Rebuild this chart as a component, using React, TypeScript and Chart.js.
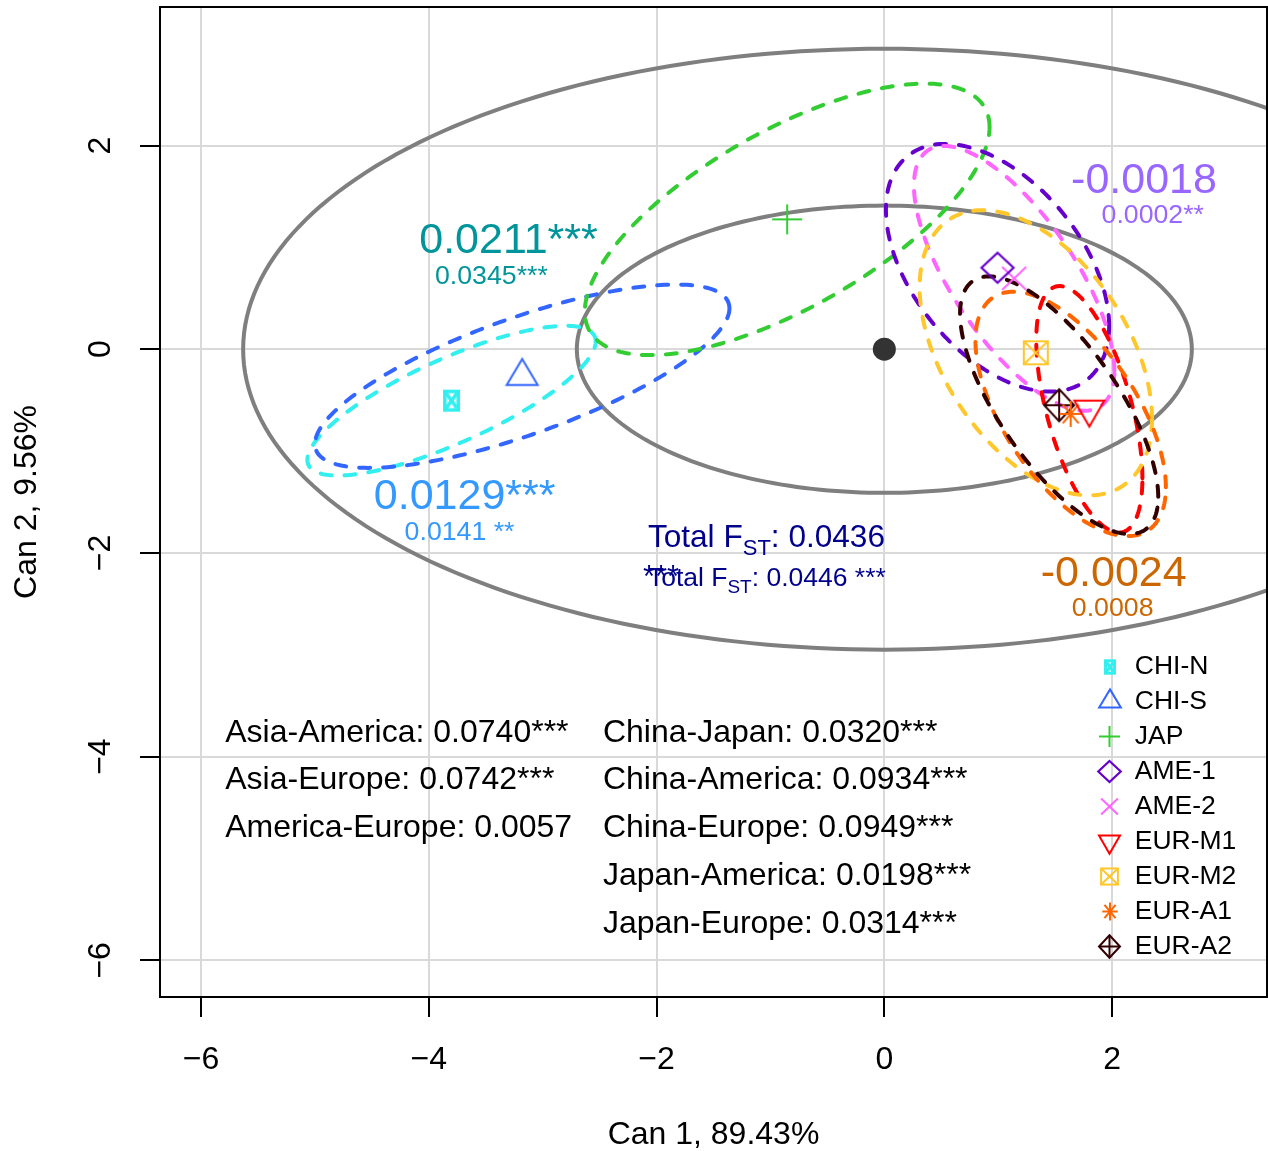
import { useEffect, useRef } from "react";
import { Chart, registerables } from "chart.js";

Chart.register(...registerables);

const FONT = "'Liberation Sans', Arial, Helvetica, sans-serif";

// Group means on the first two canonical axes
const groups = ["CHI-N", "CHI-S", "JAP", "AME-1", "AME-2", "EUR-M1", "EUR-M2", "EUR-A1", "EUR-A2"];
const can1Mean = [-3.8, -3.18, -0.853, 0.994, 1.14, 1.8, 1.33, 1.636, 1.535];
const can2Mean = [-0.505, -0.265, 1.275, 0.8, 0.696, -0.59, -0.035, -0.635, -0.55];
const groupColors = ["#33EFEF", "#3366FF", "#33CC33", "#6600CC", "#FF66FF", "#FF0000", "#FFC72C", "#FF6600", "#330000"];
const groupMarkers = ["boxX", "triUp", "plus", "diamond", "cross", "triDown", "squareX", "asterisk", "diamondPlus"];

// Dispersion ellipse of each group: half-extent on Can 1, on Can 2, and Can1/Can2 correlation
const ellipseHalf1 = [1.266, 1.82, 1.777, 0.98, 0.88, 0.466, 1.02, 0.836, 0.87];
const ellipseHalf2 = [0.735, 0.9, 1.333, 1.216, 1.3, 1.21, 1.4, 1.2, 1.265];
const ellipseCorr = [0.79, 0.74, 0.68, -0.47, -0.7, -0.56, -0.46, -0.6, -0.71];

// Reference ellipses around the grand centroid
const refHalf1 = [2.7, 5.63];
const refHalf2 = [1.41, 2.95];

const xTicks = [-6, -4, -2, 0, 2];
const yTicks = [-6, -4, -2, 0, 2];

// Within-region FST (large) and alternative estimate (small)
const regionFst = ["0.0211***", "-0.0018", "0.0129***", "-0.0024"];
const regionFstAlt = ["0.0345***", "0.0002**", "0.0141 **", "0.0008"];
const regionFstColors = ["#00959B", "#9966FF", "#3399FF", "#CC6600"];

const totalFst = ["0.0436", "0.0446 ***"];

const regionPairs = ["Asia-America: 0.0740***", "Asia-Europe: 0.0742***", "America-Europe: 0.0057"];
const countryPairs = [
  "China-Japan: 0.0320***",
  "China-America: 0.0934***",
  "China-Europe: 0.0949***",
  "Japan-America: 0.0198***",
  "Japan-Europe: 0.0314***",
];

// Text placement, in axis units
const regionFstPos = [
  { x: -3.3, y: 1.06, x2: -3.45, y2: 0.716 },
  { x: 2.28, y: 1.647, x2: 2.357, y2: 1.314 },
  { x: -3.685, y: -1.451, x2: -3.73, y2: -1.804 },
  { x: 2.014, y: -2.206, x2: 2.005, y2: -2.549 },
];

const markerSize: Record<string, [number, number, number]> = {
  boxX: [17, 22, 3.6],
  triUp: [31, 26, 2],
  plus: [30, 30, 2],
  diamond: [32, 30, 2.2],
  cross: [24, 23, 2],
  triDown: [30, 26, 2],
  squareX: [24, 23, 2],
  asterisk: [22, 26, 2],
  diamondPlus: [30, 32, 2],
};

function makeMarker(kind: string, color: string, scale: number): HTMLCanvasElement {
  const [w0, h0, lw0] = markerSize[kind];
  const w = w0 * scale;
  const h = h0 * scale;
  const lw = kind === "boxX" ? Math.max(3, lw0 * scale) : lw0;
  let top = -h / 2;
  let bottom = h / 2;
  if (kind === "triUp") {
    top = (-2 * h) / 3;
    bottom = h / 3;
  }
  if (kind === "triDown") {
    top = -h / 3;
    bottom = (2 * h) / 3;
  }
  const half = Math.max(-top, bottom);
  const pad = 4;
  const c = document.createElement("canvas");
  c.width = Math.ceil(w + 2 * pad);
  c.height = Math.ceil(2 * half + 2 * pad);
  const ctx = c.getContext("2d")!;
  ctx.translate(c.width / 2, c.height / 2);
  ctx.strokeStyle = color;
  ctx.fillStyle = color;
  ctx.lineWidth = lw;
  const hw = w / 2;
  const hh = h / 2;
  const seg = (x1: number, y1: number, x2: number, y2: number) => {
    ctx.beginPath();
    ctx.moveTo(x1, y1);
    ctx.lineTo(x2, y2);
    ctx.stroke();
  };
  const diamond = () => {
    ctx.beginPath();
    ctx.moveTo(0, -hh);
    ctx.lineTo(hw, 0);
    ctx.lineTo(0, hh);
    ctx.lineTo(-hw, 0);
    ctx.closePath();
    ctx.stroke();
  };
  switch (kind) {
    case "boxX":
      ctx.strokeRect(-hw + lw / 2, -hh + lw / 2, w - lw, h - lw);
      seg(-hw + lw / 2, -hh + lw / 2, hw - lw / 2, hh - lw / 2);
      seg(-hw + lw / 2, hh - lw / 2, hw - lw / 2, -hh + lw / 2);
      break;
    case "triUp":
      ctx.beginPath();
      ctx.moveTo(0, top);
      ctx.lineTo(hw, bottom);
      ctx.lineTo(-hw, bottom);
      ctx.closePath();
      ctx.stroke();
      break;
    case "triDown":
      ctx.beginPath();
      ctx.moveTo(-hw, top);
      ctx.lineTo(hw, top);
      ctx.lineTo(0, bottom);
      ctx.closePath();
      ctx.stroke();
      break;
    case "plus":
      seg(-hw, 0, hw, 0);
      seg(0, -hh, 0, hh);
      break;
    case "cross":
      seg(-hw, -hh, hw, hh);
      seg(-hw, hh, hw, -hh);
      break;
    case "diamond":
      diamond();
      break;
    case "squareX":
      ctx.strokeRect(-hw, -hh, w, h);
      seg(-hw, -hh, hw, hh);
      seg(-hw, hh, hw, -hh);
      break;
    case "asterisk":
      seg(-hw, 0, hw, 0);
      seg(0, -hh, 0, hh);
      seg(-hw * 0.72, -hh * 0.72, hw * 0.72, hh * 0.72);
      seg(-hw * 0.72, hh * 0.72, hw * 0.72, -hh * 0.72);
      break;
    case "diamondPlus":
      diamond();
      seg(-hw, 0, hw, 0);
      seg(0, -hh, 0, hh);
      break;
  }
  return c;
}

function traceEllipse(ctx: CanvasRenderingContext2D, xs: any, ys: any, cx: number, cy: number, h1: number, h2: number, r: number) {
  const n = 240;
  const q = Math.sqrt(1 - r * r);
  ctx.beginPath();
  for (let k = 0; k <= n; k++) {
    const t = (2 * Math.PI * k) / n;
    const px = xs.getPixelForValue(cx + h1 * Math.cos(t));
    const py = ys.getPixelForValue(cy + h2 * (r * Math.cos(t) + q * Math.sin(t)));
    if (k === 0) ctx.moveTo(px, py);
    else ctx.lineTo(px, py);
  }
  ctx.closePath();
}

const ellipsePlugin = {
  id: "groupEllipses",
  beforeDatasetsDraw(chart: any) {
    const { ctx, chartArea: ca } = chart;
    const xs = chart.scales.x;
    const ys = chart.scales.y;
    ctx.save();
    ctx.beginPath();
    ctx.rect(ca.left, ca.top, ca.right - ca.left, ca.bottom - ca.top);
    ctx.clip();
    ctx.strokeStyle = "#7F7F7F";
    ctx.lineWidth = 4;
    ctx.setLineDash([]);
    for (let k = 0; k < refHalf1.length; k++) {
      traceEllipse(ctx, xs, ys, 0, 0, refHalf1[k], refHalf2[k], 0);
      ctx.stroke();
    }
    ctx.lineWidth = 4;
    ctx.lineCap = "round";
    ctx.setLineDash([11, 13]);
    groups.forEach((_, i) => {
      ctx.strokeStyle = groupColors[i];
      traceEllipse(ctx, xs, ys, can1Mean[i], can2Mean[i], ellipseHalf1[i], ellipseHalf2[i], ellipseCorr[i]);
      ctx.stroke();
    });
    ctx.restore();
  },
};

function makeTextPlugin(legendMarkers: HTMLCanvasElement[]) {
  return {
    id: "fstText",
    afterDatasetsDraw(chart: any) {
      const { ctx } = chart;
      const xs = chart.scales.x;
      const ys = chart.scales.y;
      const px = (v: number) => xs.getPixelForValue(v);
      const py = (v: number) => ys.getPixelForValue(v);
      ctx.save();
      ctx.textBaseline = "middle";

      // within-region FST values
      ctx.textAlign = "center";
      regionFst.forEach((t, i) => {
        const p = regionFstPos[i];
        ctx.fillStyle = regionFstColors[i];
        ctx.font = `43px ${FONT}`;
        ctx.fillText(t, px(p.x), py(p.y));
        ctx.font = `26.7px ${FONT}`;
        ctx.fillText(regionFstAlt[i], px(p.x2), py(p.y2));
      });

      // total FST with subscript
      ctx.textAlign = "left";
      ctx.textBaseline = "alphabetic";
      ctx.fillStyle = "#00008B";
      const drawTotal = (x0: number, base: number, size: number, sub: number, drop: number, val: string) => {
        ctx.font = `${size}px ${FONT}`;
        ctx.fillText("Total F", x0, base);
        let x = x0 + ctx.measureText("Total F").width;
        ctx.font = `${sub}px ${FONT}`;
        ctx.fillText("ST", x, base + drop);
        x += ctx.measureText("ST").width;
        ctx.font = `${size}px ${FONT}`;
        ctx.fillText(": " + val, x, base);
      };
      const tx = px(-2.076);
      drawTotal(tx, py(-1.941), 31.6, 22, 8, totalFst[0]);
      drawTotal(tx, py(-2.324), 26.5, 19, 7, totalFst[1]);
      ctx.font = `31px ${FONT}`;
      ctx.fillText("***", tx - 5, py(-2.33));

      // pairwise FST between regions / countries
      ctx.textBaseline = "middle";
      ctx.fillStyle = "#000";
      ctx.font = `32px ${FONT}`;
      regionPairs.forEach((t, i) => ctx.fillText(t, px(-5.787), py(-3.765 - 0.4706 * i)));
      countryPairs.forEach((t, i) => ctx.fillText(t, px(-2.471), py(-3.765 - 0.4706 * i)));

      // legend
      ctx.font = `26.5px ${FONT}`;
      groups.forEach((g, i) => {
        const cy = py(-3.118 - 0.343 * i);
        const m = legendMarkers[i];
        ctx.drawImage(m, Math.round(px(1.98) - m.width / 2), Math.round(cy - m.height / 2));
        ctx.fillText(g, px(2.199), cy);
      });
      ctx.restore();
    },
    afterDraw(chart: any) {
      const { ctx, chartArea: ca } = chart;
      ctx.save();
      ctx.strokeStyle = "#000";
      ctx.lineWidth = 2;
      ctx.strokeRect(ca.left, ca.top, ca.right - ca.left, ca.bottom - ca.top);
      ctx.restore();
    },
  };
}

const fmtTick = (v: number | string) => {
  const n = Number(v);
  return n < 0 ? "\u2212" + Math.abs(n) : String(n);
};

const clearPadding = (s: any) => {
  s.paddingTop = 0;
  s.paddingBottom = 0;
  s.paddingLeft = 0;
  s.paddingRight = 0;
};

export default function App() {
  const ref = useRef<HTMLCanvasElement>(null);

  useEffect(() => {
    const plotMarkers = groupMarkers.map((k, i) => makeMarker(k, groupColors[i], 1));
    const legendMarkers = groupMarkers.map((k, i) => makeMarker(k, groupColors[i], 0.7));
    const tickFont = { family: FONT, size: 32 };

    const datasets: any[] = [
      {
        label: "centroid",
        data: [{ x: 0, y: 0 }],
        pointStyle: "circle",
        pointRadius: 11.5,
        backgroundColor: "#333333",
        borderColor: "#333333",
        borderWidth: 0,
      },
      ...groups.map((g, i) => ({
        label: g,
        data: [{ x: can1Mean[i], y: can2Mean[i] }],
        pointStyle: plotMarkers[i],
        pointRadius: 12,
        showLine: false,
      })),
    ];

    const chart = new Chart(ref.current!, {
      type: "scatter",
      data: { datasets },
      options: {
        responsive: false,
        animation: false,
        events: [],
        layout: { autoPadding: false, padding: { left: 0, right: 1, top: 7, bottom: 0 } },
        plugins: { legend: { display: false }, tooltip: { enabled: false } },
        scales: {
          x: {
            type: "linear",
            min: -6.36,
            max: 3.36,
            afterFit: (s: any) => {
              s.height = 154;
              clearPadding(s);
            },
            afterBuildTicks: (s: any) => {
              s.ticks = xTicks.map((v) => ({ value: v }));
            },
            border: { display: false },
            grid: { color: "#D9D9D9", lineWidth: 2, drawTicks: true, tickLength: 20, tickColor: "#000", tickWidth: 2 },
            ticks: { color: "#000", font: tickFont, padding: 24, maxRotation: 0, callback: fmtTick },
            title: { display: true, text: "Can 1, 89.43%", color: "#000", font: tickFont, padding: { top: 0, bottom: -3 } },
          },
          y: {
            type: "linear",
            min: -6.36,
            max: 3.36,
            afterFit: (s: any) => {
              s.width = 160;
              clearPadding(s);
            },
            afterBuildTicks: (s: any) => {
              s.ticks = yTicks.map((v) => ({ value: v }));
            },
            border: { display: false },
            grid: { color: "#D9D9D9", lineWidth: 2, drawTicks: true, tickLength: 20, tickColor: "#000", tickWidth: 2 },
            ticks: { color: "#000", font: tickFont, padding: 21, minRotation: 90, maxRotation: 90, crossAlign: "center", callback: fmtTick },
            title: { display: true, text: "Can 2, 9.56%", color: "#000", font: tickFont, padding: { top: 8, bottom: 0 } },
          },
        },
      } as any,
      plugins: [ellipsePlugin, makeTextPlugin(legendMarkers)],
    });
    return () => chart.destroy();
  }, []);

  return (
    <div style={{ position: "fixed", left: 0, top: 0, width: 1268, height: 1151, background: "#fff" }}>
      <canvas ref={ref} width={1268} height={1151} style={{ display: "block", width: 1268, height: 1151 }} />
    </div>
  );
}
